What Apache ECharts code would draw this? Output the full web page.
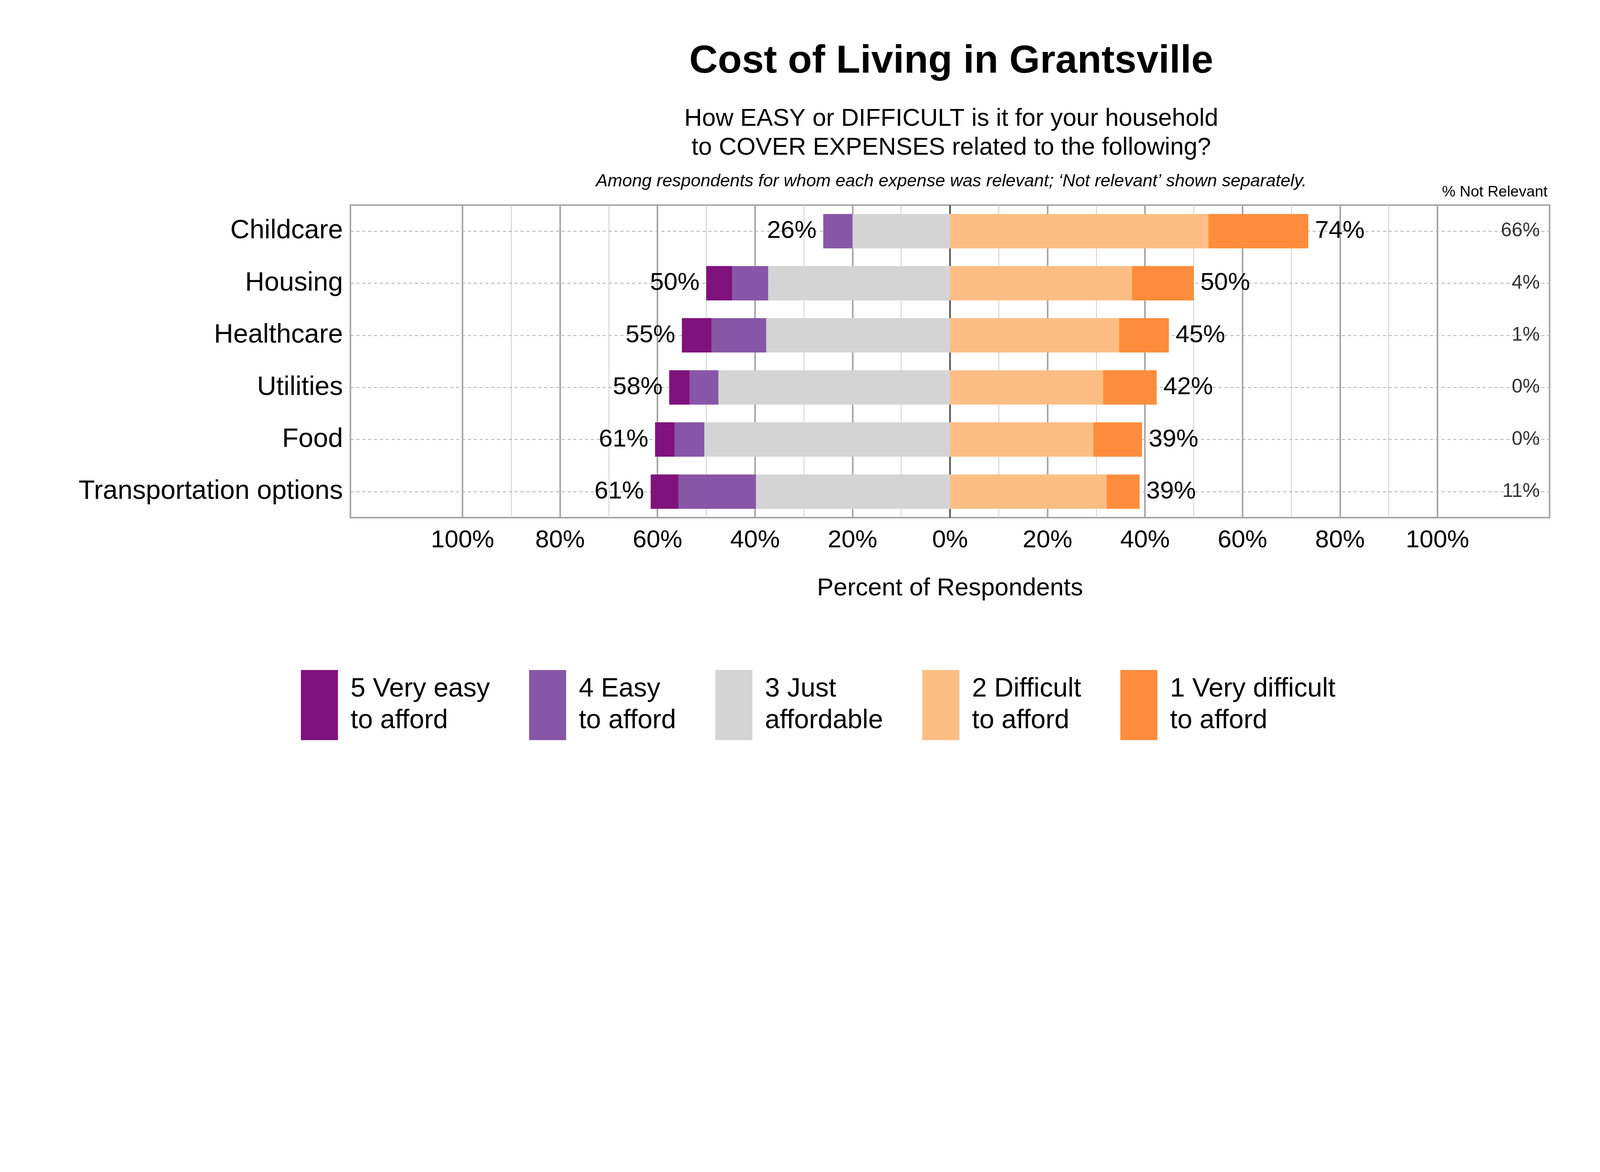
<!DOCTYPE html>
<html><head><meta charset="utf-8">
<script src="https://cdn.jsdelivr.net/npm/echarts@6/dist/echarts.min.js"></script>
<style>html,body{margin:0;padding:0;background:#fff;overflow:hidden}#c{width:100vw;height:100vh}</style>
</head><body><div id="c"></div>
<script>
const categories = ['Childcare','Housing','Healthcare','Utilities','Food','Transportation options'];
const veryEasy = [0, 5.3, 6.1, 4.2, 4.0, 5.7];
const easy = [6, 7.4, 11.2, 5.9, 6.1, 15.9];
const just = [20, 37.3, 37.7, 47.5, 50.4, 39.8];
const difficult = [53, 37.3, 34.7, 31.4, 29.4, 32.1];
const veryDifficult = [20.5, 12.7, 10.2, 11.0, 10.0, 6.8];
const leftTotals = ['26%','50%','55%','58%','61%','61%'];
const rightTotals = ['74%','50%','45%','42%','39%','39%'];
const notRelevant = ['66%','4%','1%','0%','0%','11%'];
const tickValues = [-100,-80,-60,-40,-20,0,20,40,60,80,100];
const minorGrid = [-90,-70,-50,-30,-10,10,30,50,70,90];
const names = ['5 Very easy\nto afford','4 Easy\nto afford','3 Just\naffordable','2 Difficult\nto afford','1 Very difficult\nto afford'];
const colors = ['#7f127c','#8856a7','#d4d4d4','#fdbe85','#fd8d3c'];

const el = document.getElementById('c');
const S = el.clientWidth / 6000;
const k = v => v * S;
const F = 'Liberation Sans, Arial, sans-serif';
const chart = echarts.init(el);
const neg = a => a.map(v => -v);
const barBase = {type:'bar', stack:'s', barWidth:'66%', z:3};
const lblStyle = {fontSize:k(93), color:'#000', fontFamily:F};
const gridLines = [];
tickValues.filter(v=>v!==0).forEach(v=>gridLines.push({xAxis:v, lineStyle:{color:'#a6a6a6', width:k(6), type:'solid'}}));
minorGrid.forEach(v=>gridLines.push({xAxis:v, lineStyle:{color:'#cfcfcf', width:k(3), type:'solid'}}));
categories.forEach(c=>gridLines.push({yAxis:c, lineStyle:{color:'#b0b0b0', width:k(3), type:[k(12),k(10)]}}));
gridLines.push({xAxis:0, lineStyle:{color:'#555', width:k(6), type:'solid'}});

chart.setOption({
  backgroundColor:'#fff',
  animation:false,
  title:[
    {text:'Cost of Living in Grantsville', left:k(3560), top:k(150), textAlign:'center', textStyle:{fontSize:k(148), fontWeight:'bold', fontFamily:F, color:'#000'}},
    {text:'How EASY or DIFFICULT is it for your household\nto COVER EXPENSES related to the following?', left:k(3560), top:k(385), textAlign:'center', textStyle:{fontSize:k(92), fontWeight:'normal', fontFamily:F, color:'#000', lineHeight:k(108)}},
    {text:'Among respondents for whom each expense was relevant; ‘Not relevant’ shown separately.', left:k(3560), top:k(640), textAlign:'center', textStyle:{fontSize:k(66), fontStyle:'italic', fontWeight:'normal', fontFamily:F, color:'#000'}},
    {text:'% Not Relevant', left:k(5598), top:k(685), textAlign:'center', textStyle:{fontSize:k(57), fontWeight:'normal', fontFamily:F, color:'#000'}}
  ],
  grid:{left:k(1314), right:k(189), top:k(769), bottom:el.clientHeight - k(1941), show:true, borderColor:'#a6a6a6', borderWidth:k(6), containLabel:false},
  xAxis:{type:'value', min:-123, max:123,
    splitLine:{show:false}, axisLine:{show:false}, axisTick:{show:false},
    axisLabel:{customValues:tickValues, formatter:v=>Math.abs(v)+'%', fontSize:k(93), color:'#000', fontFamily:F, margin:k(40)},
    name:'Percent of Respondents', nameLocation:'middle', nameGap:k(220), nameTextStyle:{fontSize:k(93), color:'#000', fontFamily:F}},
  yAxis:{type:'category', data:categories, inverse:true,
    axisLine:{show:false}, axisTick:{show:false}, splitLine:{show:false},
    axisLabel:{fontSize:k(100), color:'#000', fontFamily:F, margin:k(28)}},
  legend:{data:names, left:k(1121), top:k(2505), itemWidth:k(139), itemHeight:k(263), itemGap:k(147), icon:'rect',
    textStyle:{fontSize:k(100), color:'#000', fontFamily:F, lineHeight:k(118), padding:[0,0,0,k(40)]}},
  series:[
    {type:'scatter', data:[[0,'Childcare']], symbolSize:0, z:1, silent:true,
      markLine:{symbol:'none', silent:true, label:{show:false}, data:gridLines, z:1}},
    Object.assign({}, barBase, {name:names[2], data:neg(just), itemStyle:{color:colors[2]}}),
    Object.assign({}, barBase, {name:names[1], data:neg(easy), itemStyle:{color:colors[1]}}),
    Object.assign({}, barBase, {name:names[0], data:neg(veryEasy), itemStyle:{color:colors[0]},
      label:Object.assign({show:true, position:'left', distance:k(25), formatter:p=>leftTotals[p.dataIndex]}, lblStyle)}),
    Object.assign({}, barBase, {name:names[3], data:difficult, itemStyle:{color:colors[3]}}),
    Object.assign({}, barBase, {name:names[4], data:veryDifficult, itemStyle:{color:colors[4]},
      label:Object.assign({show:true, position:'right', distance:k(25), formatter:p=>rightTotals[p.dataIndex]}, lblStyle)}),
    {type:'scatter', data:categories.map(c=>[121,c]), symbolSize:0, z:4, silent:true,
      label:{show:true, position:'left', distance:0, formatter:p=>notRelevant[p.dataIndex], fontSize:k(73), color:'#000', fontFamily:F}}
  ]
});
</script></body></html>
